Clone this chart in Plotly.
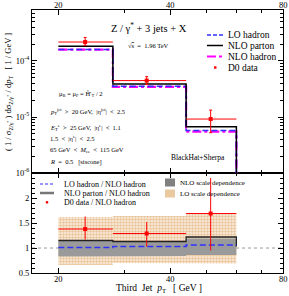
import numpy as np
import plotly.graph_objects as go

# ---------------- data ----------------
bin_edges = [20, 28, 44, 60]
x_tick_vals = [20, 40, 80]
x_tick_text = ["20", "40", "80"]

lo_hadron = [1.60e-4, 3.55e-5, 5.75e-6]
nlo_parton = [1.83e-4, 3.90e-5, 6.70e-6]
nlo_hadron = [1.60e-4, 3.45e-5, 5.50e-6]

d0_x = [23.6, 34.5, 51.2]
d0_val = [2.18e-4, 4.47e-5, 9.2e-6]
d0_hi = [2.63e-4, 5.25e-5, 1.33e-5]
d0_lo = [1.90e-4, 3.80e-5, 5.25e-6]

ratio_lo_hadron = [1.01, 1.03, 1.06]
ratio_nlo_parton = [1.15, 1.13, 1.22]
ratio_d0 = [1.38, 1.29, 1.69]
ratio_d0_hi = [1.63, 1.52, 2.40]
ratio_d0_lo = [1.17, 1.03, 0.95]
nlo_band_lo = [0.83, 0.84, 0.86]
nlo_band_hi = [1.14, 1.12, 1.19]
lo_band_lo = [0.66, 0.70, 0.69]
lo_band_hi = [1.62, 1.64, 1.70]

FONT = "Liberation Serif"
RED = "#ff0000"
BLUE = "#3030ff"
MAG = "#ff00ff"


def step_xy(edges, vals, end=None):
    xs = list(edges)
    ys = list(vals) + [vals[-1]]
    if end is not None:
        xs = xs + [edges[-1]]
        ys = ys + [end]
    return xs, ys


def band_xy(edges, lo, hi):
    xs, ys = [], []
    for i in range(len(lo)):
        xs += [edges[i], edges[i + 1]]
        ys += [hi[i], hi[i]]
    for i in reversed(range(len(lo))):
        xs += [edges[i + 1], edges[i]]
        ys += [lo[i], lo[i]]
    return xs, ys


fig = go.Figure()

# ---------------- top panel ----------------
floor = 1e-8
x, y = step_xy(bin_edges, nlo_hadron, floor)
fig.add_trace(go.Scatter(x=x, y=y, mode="lines", line_shape="hv", xaxis="x2", yaxis="y2",
                         line=dict(color=MAG, width=2.2, dash="dashdot")))
x, y = step_xy(bin_edges, lo_hadron, floor)
fig.add_trace(go.Scatter(x=x, y=y, mode="lines", line_shape="hv", xaxis="x2", yaxis="y2",
                         line=dict(color=BLUE, width=1.6, dash="6px,3px")))
x, y = step_xy(bin_edges, nlo_parton, floor)
fig.add_trace(go.Scatter(x=x, y=y, mode="lines", line_shape="hv", xaxis="x2", yaxis="y2",
                         line=dict(color="black", width=1.5)))

centers = np.array(d0_x)
e_lo = np.array(bin_edges[:-1])
e_hi = np.array(bin_edges[1:])
fig.add_trace(go.Scatter(
    x=d0_x, y=d0_val, mode="markers", xaxis="x2", yaxis="y2",
    marker=dict(color=RED, size=4, symbol="square"),
    error_x=dict(type="data", symmetric=False, array=list(e_hi - centers),
                 arrayminus=list(centers - e_lo), color=RED, thickness=1, width=0),
    error_y=dict(type="data", symmetric=False,
                 array=list(np.array(d0_hi) - np.array(d0_val)),
                 arrayminus=list(np.array(d0_val) - np.array(d0_lo)),
                 color=RED, thickness=1, width=1.5)))

# ---------------- bottom panel ----------------
bx, by = band_xy(bin_edges, lo_band_lo, lo_band_hi)
fig.add_trace(go.Scatter(x=bx, y=by, mode="lines", fill="toself", xaxis="x", yaxis="y",
                         line=dict(width=0, color="rgba(0,0,0,0)"),
                         fillcolor="rgba(0,0,0,0)",
                         fillpattern=dict(shape=".", fgcolor="#d8964e", bgcolor="#fbf1e4",
                                          size=3, solidity=0.55)))
bx, by = band_xy(bin_edges, nlo_band_lo, nlo_band_hi)
fig.add_trace(go.Scatter(x=bx, y=by, mode="lines", fill="toself", xaxis="x", yaxis="y",
                         line=dict(width=0, color="rgba(0,0,0,0)"), fillcolor="#9a9a9a"))
x, y = step_xy(bin_edges, ratio_nlo_parton, 1.03)
fig.add_trace(go.Scatter(x=x, y=y, mode="lines", line_shape="hv", xaxis="x", yaxis="y",
                         line=dict(color="#222222", width=1.3)))
x, y = step_xy(bin_edges, ratio_lo_hadron)
fig.add_trace(go.Scatter(x=x, y=y, mode="lines", line_shape="hv", xaxis="x", yaxis="y",
                         line=dict(color=BLUE, width=1.6, dash="6px,3px")))
fig.add_trace(go.Scatter(
    x=d0_x, y=ratio_d0, mode="markers", xaxis="x", yaxis="y",
    marker=dict(color=RED, size=4, symbol="square"),
    error_x=dict(type="data", symmetric=False, array=list(e_hi - centers),
                 arrayminus=list(centers - e_lo), color=RED, thickness=1, width=0),
    error_y=dict(type="data", symmetric=False,
                 array=list(np.array(ratio_d0_hi) - np.array(ratio_d0)),
                 arrayminus=list(np.array(ratio_d0) - np.array(ratio_d0_lo)),
                 color=RED, thickness=1, width=0)))

# ---------------- axes ----------------
xr = [np.log10(17), np.log10(80)]
tickfont = dict(family=FONT, size=8.5, color="black")
xcommon = dict(type="log", range=xr, tickvals=x_tick_vals, showticklabels=False,
               ticks="inside", ticklen=5, tickwidth=1, tickcolor="black",
               showline=True, linecolor="black", linewidth=1, mirror="allticks",
               showgrid=False, zeroline=False, automargin=False,
               minor=dict(tickvals=[30, 50, 60, 70], ticks="inside", ticklen=3,
                          tickcolor="black", showgrid=False))

top_minor = [m * 10.0 ** e for e in (-6, -5, -4) for m in range(2, 10)]
bot_minor = [round(0.5 + 0.1 * i, 2) for i in range(21)]

fig.update_layout(
    width=289, height=296,
    margin=dict(l=32, r=6, t=10, b=23, autoexpand=False),
    paper_bgcolor="white", plot_bgcolor="white",
    showlegend=False,
    font=dict(family=FONT, color="black"),
    xaxis=dict(domain=[0, 1], anchor="y", **xcommon),
    xaxis2=dict(domain=[0, 1], anchor="y2", matches="x", side="top", **xcommon),
    yaxis=dict(domain=[0, 0.38], anchor="x", range=[0.5, 2.5], automargin=False,
               tickvals=[0.5, 1, 1.5, 2], ticktext=["0.5", "1", "1.5", "2"],
               ticks="inside", ticklen=5, tickcolor="black", showline=True,
               linecolor="black", linewidth=1, mirror="allticks", showgrid=False,
               zeroline=False, tickfont=tickfont,
               minor=dict(tickvals=bot_minor, ticks="inside", ticklen=3,
                          tickcolor="black", showgrid=False)),
    yaxis2=dict(domain=[0.38, 1], anchor="x2", type="log", range=[-6, -3.09], automargin=False,
                tickvals=[1e-6, 1e-5, 1e-4],
                ticktext=["10<sup>-6</sup>", "10<sup>-5</sup>", "10<sup>-4</sup>"],
                ticks="inside", ticklen=5, tickcolor="black", showline=True,
                linecolor="black", linewidth=1, mirror="allticks", showgrid=False,
                zeroline=False, tickfont=tickfont,
                minor=dict(tickvals=top_minor, ticks="inside", ticklen=3,
                           tickcolor="black", showgrid=False)),
)

# dotted reference line at 1 (below bands)
fig.add_shape(type="line", xref="paper", yref="y", x0=0, x1=1, y0=1, y1=1,
              line=dict(color="#999999", width=1, dash="dot"), layer="below")


def px(X):
    return (X - 32) / 251.0


def py(Y):
    return (273 - Y) / 263.0


def text(X, Y, s, size, xanchor="left", angle=0):
    fig.add_annotation(x=px(X), y=py(Y), xref="paper", yref="paper", text=s,
                       showarrow=False, xanchor=xanchor, yanchor="middle",
                       textangle=angle, font=dict(family=FONT, size=size, color="black"))


# x tick labels (top and bottom) placed on the log axis
for v, t in zip(x_tick_vals, x_tick_text):
    for Y in (4.5, 278.5):
        fig.add_annotation(x=np.log10(v), y=py(Y), xref="x", yref="paper", text=t,
                           showarrow=False, xanchor="center", yanchor="middle",
                           font=dict(family=FONT, size=8.5, color="black"))

# titles
text(149, 27, "Z / γ<sup>*</sup> + 3 jets + X", 10.5, "center")
text(148, 46, "√<span style='text-decoration:overline'>s</span>  =  1.96 TeV", 6.5, "center")
text(8, 92, "( 1 / σ<sub>Z/γ<sup>*</sup></sub> ) dσ<sub>Z/γ<sup>*</sup></sub> / d<i>p</i><sub>T</sub>   [ 1 / GeV ]",
     8.5, "center", -90)
text(159, 288, "Third  Jet  <i>p</i><sub>T</sub>   [ GeV ]", 9.5, "center")

# cut annotations
text(57, 94, "μ<sub>R</sub> = μ<sub>F</sub> = Ĥ′<sub>T</sub> / 2", 6.5)
text(48, 111.7, "<i>p</i><sub>T</sub><sup>jet</sup>  >  20 GeV,  |η<sup>jet</sup>|  <  2.5", 6.5)
text(48, 127, "<i>E</i><sub>T</sub><sup>e</sup>  >  25 GeV,  |η<sup>e</sup>|  <  1.1", 6.5)
text(48, 137.5, "1.5  <  |η<sup>e</sup>|  <  2.5", 6.5)
text(48, 150, "65 GeV  <  <i>M</i><sub>ee</sub>  <  115 GeV", 6.5)
text(48, 161.7, "<i>R</i>  =  0.5   [siscone]", 6.5)
text(197.5, 157, "BlackHat+Sherpa", 7.5, "center")

# top legend
leg_y = [35, 45.5, 56.5, 67.5]
fig.add_shape(type="line", xref="paper", yref="paper", x0=px(207), x1=px(223),
              y0=py(leg_y[0]), y1=py(leg_y[0]), line=dict(color=BLUE, width=1.6, dash="4px,2px"))
fig.add_shape(type="line", xref="paper", yref="paper", x0=px(207), x1=px(223),
              y0=py(leg_y[1]), y1=py(leg_y[1]), line=dict(color="black", width=1.5))
fig.add_shape(type="line", xref="paper", yref="paper", x0=px(207), x1=px(223),
              y0=py(leg_y[2]), y1=py(leg_y[2]), line=dict(color=MAG, width=2, dash="dashdot"))
fig.add_shape(type="rect", xref="paper", yref="paper", x0=px(214), x1=px(216.5),
              y0=py(leg_y[3] + 1.2), y1=py(leg_y[3] - 1.2), fillcolor=RED, line=dict(width=0))
for Y, s in zip(leg_y, ["LO hadron", "NLO parton", "NLO hadron", "D0 data"]):
    text(225.5, Y, s, 9.5)

# bottom-left legend
bl_y = [184, 193, 202.3]
fig.add_shape(type="line", xref="paper", yref="paper", x0=px(40), x1=px(54),
              y0=py(bl_y[0]), y1=py(bl_y[0]), line=dict(color=BLUE, width=1.2, dash="3px,2px"))
fig.add_shape(type="line", xref="paper", yref="paper", x0=px(40), x1=px(54),
              y0=py(bl_y[1]), y1=py(bl_y[1]), line=dict(color="#777777", width=2.5))
fig.add_shape(type="rect", xref="paper", yref="paper", x0=px(45.8), x1=px(48.2),
              y0=py(bl_y[2] + 1.2), y1=py(bl_y[2] - 1.2), fillcolor=RED, line=dict(width=0))
for Y, s in zip(bl_y, ["LO hadron / NLO hadron", "NLO parton / NLO hadron", "D0 data / NLO hadron"]):
    text(61.5, Y, s, 8)

# bottom-right legend
fig.add_shape(type="rect", xref="paper", yref="paper", x0=px(165), x1=px(175),
              y0=py(186.5), y1=py(178.5), fillcolor="#808080", line=dict(width=0))
fig.add_shape(type="rect", xref="paper", yref="paper", x0=px(165), x1=px(175),
              y0=py(197.5), y1=py(189.5), fillcolor="#ebc9a0", line=dict(width=0))
text(177.5, 182.5, "NLO scale dependence", 7)
text(177.5, 193.5, "LO scale dependence", 7)

fig.write_html("out.html", config={"displayModeBar": False},
               post_script="document.body.style.margin='0';document.body.style.overflow='hidden';")
